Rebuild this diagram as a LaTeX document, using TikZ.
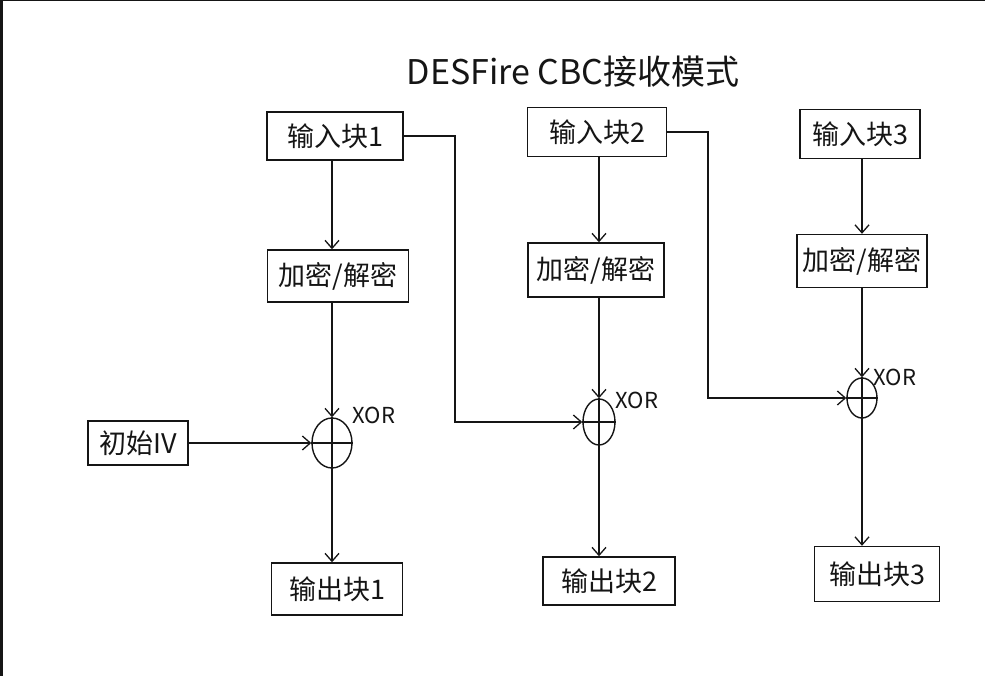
\documentclass[tikz,border=0pt]{standalone}
\usepackage{fontspec}
\newfontfamily\cjk{Noto Sans CJK SC}
\usetikzlibrary{arrows.meta,shapes.geometric}
\definecolor{ink}{HTML}{151515}
\tikzset{
  box/.style={draw=ink, line width=1.4pt, rectangle, inner sep=2pt, font=\cjk\fontsize{27}{29}\selectfont, text=ink},
  xorc/.style={draw=ink, line width=1.4pt, ellipse, inner sep=0pt},
  wire/.style={draw=ink, line width=1.4pt},
  arr/.style={wire, -{Straight Barb[length=8pt,width=14pt,line width=1.3pt]}},
  lab/.style={font=\cjk\fontsize{22}{24}\selectfont, text=ink}
}
\begin{document}
\begin{tikzpicture}[x=1pt,y=-1pt]
\useasboundingbox (0,0) rectangle (985,676);
\fill[white] (0,0) rectangle (985,676);
\fill[ink] (0,0) rectangle (3,676);
\fill[ink] (0,0) rectangle (985,1.5);

\node[font=\cjk\fontsize{34}{36}\selectfont, text=ink] (title) at (573,72) {DESFire CBC接收模式};

% column 1
\node[box, minimum width=136pt, minimum height=48pt] (in1) at (335,136) {输入块1};
\node[box, minimum width=141pt, minimum height=52pt] (enc1) at (338,276) {加密/解密};
\node[xorc, minimum width=40pt, minimum height=50pt] (xor1) at (332,443) {};
\node[box, minimum width=100pt, minimum height=44pt] (iv) at (138,443) {初始IV};
\node[box, minimum width=131pt, minimum height=52pt] (out1) at (337,589) {输出块1};
\node[lab] (x1) at (374,415) {XOR};

% column 2
\node[box, minimum width=139pt, minimum height=49pt] (in2) at (597,132) {输入块2};
\node[box, minimum width=136pt, minimum height=54pt] (enc2) at (596,270) {加密/解密};
\node[xorc, minimum width=32pt, minimum height=46pt] (xor2) at (599,422) {};
\node[box, minimum width=132pt, minimum height=48pt] (out2) at (609,581) {输出块2};
\node[lab] (x2) at (637,400) {XOR};

% column 3
\node[box, minimum width=120pt, minimum height=49pt] (in3) at (860,134) {输入块3};
\node[box, minimum width=130pt, minimum height=53pt] (enc3) at (862,261) {加密/解密};
\node[xorc, minimum width=30pt, minimum height=40pt] (xor3) at (862,398) {};
\node[box, minimum width=125pt, minimum height=55pt] (out3) at (877,574) {输出块3};
\node[lab] (x3) at (895,377) {XOR};

% crosses inside XOR
\foreach \n in {xor1,xor2,xor3}{
  \draw[wire] (\n.north) -- (\n.south);
  \draw[wire] (\n.west) -- (\n.east);
}

% vertical flows
\foreach \i in {1,2,3}{
  \draw[arr] (in\i.south -| xor\i.north) -- (enc\i.north -| xor\i.north);
  \draw[arr] (enc\i.south -| xor\i.north) -- (xor\i.north);
  \draw[arr] (xor\i.south) -- (out\i.north -| xor\i.south);
}

% IV
\draw[arr] (iv.east) -- (xor1.west);

% feedback
\coordinate (f1) at (455,0);
\coordinate (f2) at (708,0);
\draw[arr] (in1.east) -| (f1 |- xor2.west) -- (xor2.west);
\draw[arr] (in2.east) -| (f2 |- xor3.west) -- (xor3.west);
\end{tikzpicture}
\end{document}
